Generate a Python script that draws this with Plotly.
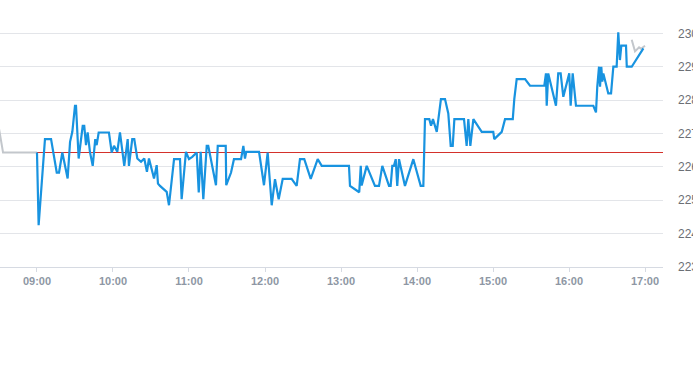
import plotly.graph_objects as go

DAY = "2024-01-02 "

prev_close = 226.43
session_open = "09:00:00"
view_start = "08:30:48"
view_end = "17:14:12"

pre_times = ["08:30:00", "08:33:12", "09:00:00"]
pre_prices = [227.15, 226.43, 226.43]

times = [
    "09:00:00", "09:01:18", "09:06:18", "09:11:06", "09:15:36", "09:17:24", "09:20:00", "09:24:12",
    "09:26:06", "09:27:54", "09:30:00", "09:30:48", "09:32:54", "09:36:06", "09:37:18", "09:38:42",
    "09:40:00", "09:41:48", "09:44:00", "09:46:00", "09:47:06", "09:48:42", "09:56:48", "09:59:00",
    "10:00:48", "10:03:24", "10:05:30", "10:08:54", "10:11:36", "10:12:36", "10:15:12", "10:16:48",
    "10:19:12", "10:22:06", "10:24:42", "10:26:48", "10:28:24", "10:32:24", "10:34:30", "10:35:30",
    "10:37:06", "10:42:24", "10:44:12", "10:48:12", "10:52:54", "10:54:12", "10:57:36", "11:00:00",
    "11:02:36", "11:06:06", "11:07:42", "11:09:12", "11:11:18", "11:14:00", "11:15:12", "11:21:18",
    "11:22:42", "11:29:00", "11:29:24", "11:33:12", "11:35:30", "11:41:06", "11:42:54", "11:44:12",
    "11:45:12", "11:55:18", "11:59:12", "12:02:06", "12:05:18", "12:07:54", "12:10:48", "12:14:00",
    "12:21:00", "12:25:00", "12:27:36", "12:31:00", "12:36:06", "12:41:36", "12:44:48", "13:06:18",
    "13:07:06", "13:14:24", "13:15:36", "13:16:18", "13:20:18", "13:26:48", "13:30:00", "13:32:36",
    "13:37:54", "13:39:12", "13:40:30", "13:41:48", "13:43:12", "13:44:24", "13:45:48", "13:50:30",
    "13:57:06", "14:02:54", "14:05:00", "14:06:18", "14:09:42", "14:11:06", "14:12:36", "14:15:36",
    "14:18:54", "14:22:06", "14:24:42", "14:26:36", "14:28:12", "14:29:30", "14:37:06", "14:39:12",
    "14:40:30", "14:42:06", "14:44:30", "14:48:54", "14:51:06", "15:00:12", "15:01:00", "15:06:54",
    "15:09:30", "15:15:36", "15:16:48", "15:18:42", "15:25:18", "15:29:12", "15:40:30", "15:41:48",
    "15:42:24", "15:43:36", "15:49:42", "15:51:30", "15:53:24", "15:55:30", "16:00:12", "16:01:18",
    "16:02:54", "16:05:30", "16:19:12", "16:21:18", "16:22:18", "16:23:42", "16:24:30", "16:25:30",
    "16:26:18", "16:27:06", "16:31:00", "16:33:12", "16:35:00", "16:37:36", "16:38:54", "16:40:12",
    "16:41:18", "16:45:00", "16:45:36", "16:49:30", "16:58:42",
]
prices = [
    226.43, 224.25, 226.83, 226.83, 225.83, 225.83, 226.43, 225.65,
    226.75, 227.05, 227.83, 227.83, 226.25, 227.23, 227.23, 226.65,
    227.03, 226.45, 226.03, 226.83, 226.65, 227.03, 227.03, 226.43,
    226.63, 226.45, 227.03, 226.03, 226.83, 226.03, 226.83, 226.83,
    226.25, 226.15, 226.25, 225.85, 226.25, 225.65, 226.05, 225.50,
    225.43, 225.25, 224.85, 226.23, 226.23, 225.03, 226.45, 226.23,
    226.30, 226.43, 225.23, 226.45, 225.03, 226.63, 226.63, 225.45,
    226.63, 226.63, 225.45, 225.83, 226.23, 226.23, 226.63, 226.25,
    226.45, 226.45, 225.45, 226.43, 224.85, 225.63, 225.03, 225.64,
    225.64, 225.43, 226.23, 226.23, 225.64, 226.23, 226.03, 226.03,
    225.43, 225.24, 226.03, 225.44, 226.03, 225.43, 225.43, 226.03,
    225.43, 225.43, 226.03, 226.03, 226.23, 225.43, 226.23, 225.43,
    226.23, 225.43, 225.43, 227.43, 227.43, 227.23, 227.43, 227.05,
    228.03, 228.03, 227.60, 226.63, 226.63, 227.43, 227.43, 226.63,
    227.43, 226.63, 227.43, 227.20, 227.05, 227.05, 226.83, 227.05,
    227.43, 227.43, 228.03, 228.63, 228.63, 228.43, 228.43, 228.80,
    227.83, 228.80, 227.83, 228.80, 228.80, 228.10, 228.80, 227.83,
    228.80, 227.83, 227.83, 227.63, 228.40, 229.00, 228.40, 229.00,
    228.55, 228.80, 228.20, 228.20, 229.00, 229.00, 230.03, 229.20,
    229.63, 229.63, 229.00, 229.00, 229.55,
]

post_times = ["16:49:30", "16:52:06", "16:55:18", "16:56:48", "17:00:00"]
post_prices = [229.81, 229.46, 229.58, 229.54, 229.63]

tick_labels = ["09:00", "10:00", "11:00", "12:00", "13:00", "14:00", "15:00", "16:00", "17:00"]
y_ticks = [223, 224, 225, 226, 227, 228, 229, 230]

fig = go.Figure()
fig.add_trace(go.Scatter(x=[DAY + session_open, DAY + view_end], y=[prev_close, prev_close],
                         mode="lines", line=dict(color="#d4312b", width=1), hoverinfo="skip"))
fig.add_trace(go.Scatter(x=[DAY + t for t in pre_times], y=pre_prices, mode="lines",
                         line=dict(color="#c3c7cc", width=2), hoverinfo="skip"))
fig.add_trace(go.Scatter(x=[DAY + t for t in post_times], y=post_prices, mode="lines",
                         line=dict(color="#c3c7cc", width=2), hoverinfo="skip"))
fig.add_trace(go.Scatter(x=[DAY + t for t in times], y=prices, mode="lines",
                         line=dict(color="#1893e0", width=2.2), hoverinfo="skip"))

fig.update_layout(
    width=693, height=365,
    margin=dict(l=0, r=30, t=30, b=98),
    paper_bgcolor="white", plot_bgcolor="white",
    showlegend=False,
    hovermode=False,
    xaxis=dict(
        type="date",
        range=[DAY + view_start, DAY + view_end],
        tickvals=[DAY + t for t in tick_labels],
        ticktext=tick_labels,
        showgrid=False,
        showline=True, linecolor="#d6dae2", linewidth=1,
        ticks="outside", ticklen=4, tickcolor="#d6dae2",
        tickfont=dict(family="Liberation Sans, Arial", size=11, color="#8e97a4", weight="bold"),
        zeroline=False,
        automargin=False,
    ),
    yaxis=dict(
        side="right",
        range=[223, 230.1],
        tickvals=y_ticks,
        ticktext=[str(v) for v in y_ticks],
        showgrid=True, gridcolor="#e3e5e9", gridwidth=1,
        ticks="", ticklabelstandoff=14,
        tickfont=dict(family="Liberation Sans, Arial", size=12, color="#6b6f75"),
        zeroline=False,
        showline=False,
        automargin=False,
    ),
)

fig.write_html("out.html", config={"displayModeBar": False},
               post_script="document.body.style.margin='0';document.body.style.overflow='hidden';")
